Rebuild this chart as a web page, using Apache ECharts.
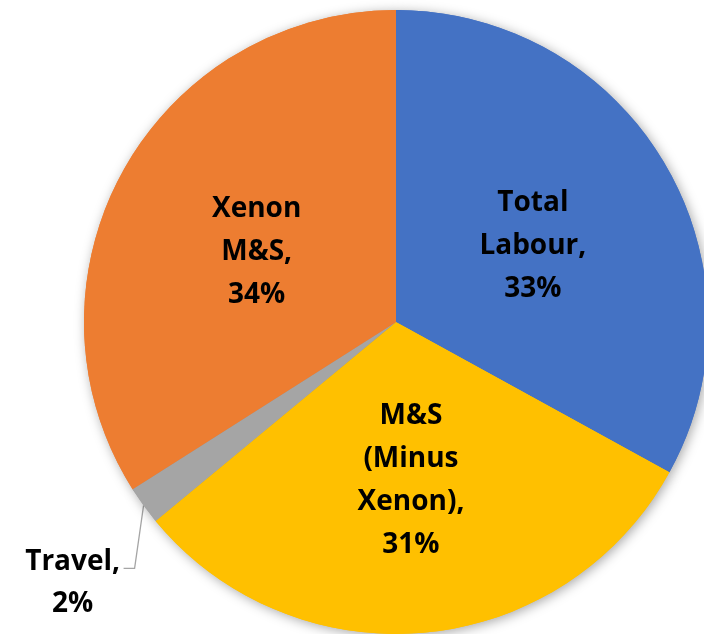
<!DOCTYPE html>
<html>
<head>
<meta charset="utf-8">
<style>
  html, body { margin: 0; padding: 0; background: #ffffff; }
  #chart { width: 704px; height: 634px; }
</style>
<script src="https://cdn.jsdelivr.net/npm/echarts@6/dist/echarts.min.js"></script>
</head>
<body>
<div id="chart"></div>
<script>
// Cost breakdown by category (percent of total)
const categories = ['Total Labour', 'M&S (Minus Xenon)', 'Travel', 'Xenon M&S'];
const labelLines = ['Total\nLabour,', 'M&S\n(Minus\nXenon),', 'Travel,', 'Xenon\nM&S,'];
const shares = [33, 31, 2, 34];
const colors = ['#4472C4', '#FFC000', '#A5A5A5', '#ED7D31'];

const FONT = '"Open Sans", Lato, sans-serif';

const pieData = categories.map((name, i) => ({
  name: name,
  value: shares[i],
  itemStyle: { color: colors[i] }
}));

const chart = echarts.init(document.getElementById('chart'), null, { renderer: 'canvas' });

const center = [396, 322];
const radius = 312;

chart.setOption({
  animation: false,
  backgroundColor: '#ffffff',
  series: [
    {
      // soft drop shadow under the whole pie
      type: 'pie',
      silent: true,
      center: center,
      radius: radius,
      startAngle: 90,
      clockwise: true,
      label: { show: false },
      labelLine: { show: false },
      itemStyle: {
        shadowBlur: 12,
        shadowColor: 'rgba(0,0,0,0.35)',
        shadowOffsetX: 2,
        shadowOffsetY: 2
      },
      data: pieData
    },
    {
      type: 'pie',
      center: center,
      radius: radius,
      startAngle: 90,
      clockwise: true,
      avoidLabelOverlap: false,
      itemStyle: { borderWidth: 0 },
      label: {
        position: 'inside',
        color: '#000000',
        fontFamily: FONT,
        fontWeight: 'bold',
        fontSize: 28,
        lineHeight: 43,
        align: 'center',
        formatter: p => labelLines[p.dataIndex] + '\n' + p.percent + '%'
      },
      labelLine: { show: false },
      labelLayout: function (params) {
        // upper labels sit a little lower in their wedges
        if (params.dataIndex === 0) return { dy: 5 };
        if (params.dataIndex === 3) return { dy: 7 };
        if (params.dataIndex !== 2) return {};
        const edge = params.labelLinePoints && params.labelLinePoints[0];
        if (!edge) return {};
        const lx = edge[0] - 71;
        const ly = edge[1] + 78;
        const elbowY = ly - 15;
        return {
          x: lx,
          y: ly,
          align: 'center',
          verticalAlign: 'middle',
          labelLinePoints: [
            [edge[0], edge[1]],
            [edge[0] - 9, elbowY],
            [edge[0] - 20, elbowY]
          ]
        };
      },
      data: pieData.map((d, i) => i === 2 ? Object.assign({}, d, {
        label: {
          position: 'outside',
          formatter: p => '{t|' + labelLines[p.dataIndex] + '}\n{t|' + p.percent + '%}',
          rich: {
            t: {
              width: 120,
              align: 'center',
              color: '#000000',
              fontFamily: FONT,
              fontWeight: 'bold',
              fontSize: 28,
              lineHeight: 42
            }
          }
        },
        labelLine: {
          show: true,
          length: 40,
          length2: 10,
          lineStyle: { color: '#A5A5A5', width: 1.3 }
        }
      }) : d)
    }
  ]
});
</script>
</body>
</html>
